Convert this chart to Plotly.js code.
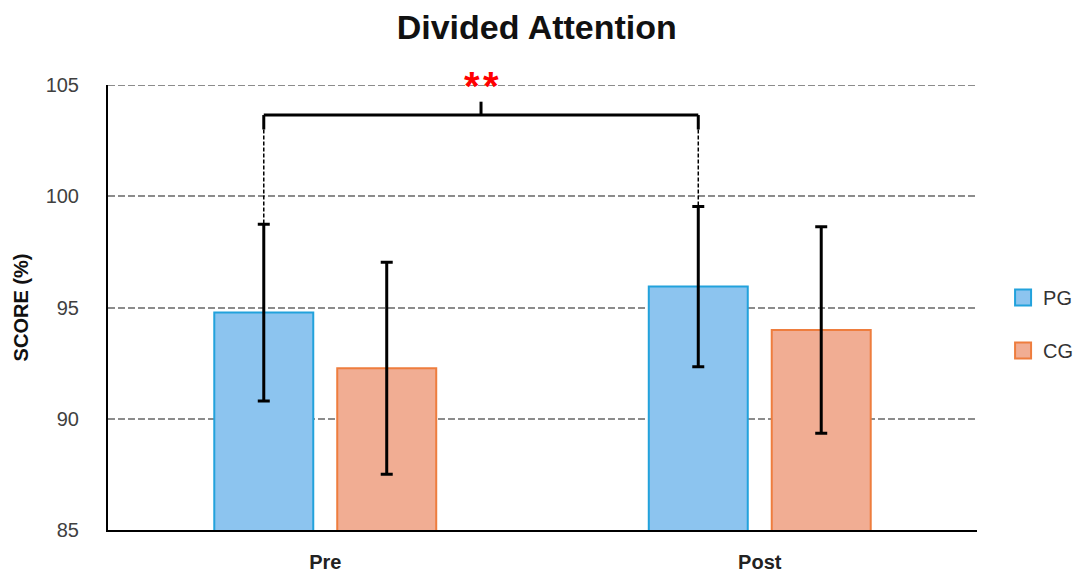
<!DOCTYPE html>
<html>
<head>
<meta charset="utf-8">
<script src="https://cdn.plot.ly/plotly-3.0.1.min.js"></script>
<style>html,body{margin:0;padding:0;background:#fff;}#chart{width:1080px;height:574px;}</style>
</head>
<body>
<div id="chart"></div>
<script>
const categories = ["Pre", "Post"];
const pgValues = [94.77, 95.94];
const pgErrors = [3.97, 3.6];
const cgValues = [92.27, 93.99];
const cgErrors = [4.76, 4.64];
const yTicks = [85, 90, 95, 100, 105];
const significance = "*\u200A*";

const bargap = 0.434, bargroupgap = 0.195;
const slot = (1 - bargap) / 2;
const pgOffset = -slot / 2;

const pgColor = "#8cc4ef", pgLine = "#22a2dc";
const cgColor = "#f1ad93", cgLine = "#ee7d3e";

const traces = [
  {type: "bar", name: "PG", x: categories, y: pgValues, showlegend: false,
   marker: {color: pgColor, line: {color: pgLine, width: 2}},
   error_y: {type: "data", array: pgErrors, visible: true, color: "#000", thickness: 3, width: 6}},
  {type: "bar", name: "CG", x: categories, y: cgValues, showlegend: false,
   marker: {color: cgColor, line: {color: cgLine, width: 2}},
   error_y: {type: "data", array: cgErrors, visible: true, color: "#000", thickness: 3, width: 6}},
  {type: "scatter", mode: "markers", name: "PG", x: [null], y: [null], legendgroup: "a",
   marker: {symbol: "square", size: 16, color: pgColor, line: {color: pgLine, width: 2}}},
  {type: "scatter", mode: "markers", name: "CG", x: [null], y: [null], legendgroup: "b",
   marker: {symbol: "square", size: 16, color: cgColor, line: {color: cgLine, width: 2}}}
];

const xL = 0 + pgOffset, xR = 1 + pgOffset, xM = (xL + xR) / 2;
const yBar = 103.65, yEnd = 103.0, yTip = 104.25;
const solid = {color: "#000", width: 3};
const gridDash = {color: "#8c8c8c", width: 2, dash: "7px,3px"};
const shapes = [
  {type: "line", xref: "paper", yref: "y", x0: 0, x1: 1, y0: 105, y1: 105, line: gridDash, layer: "below"},
  {type: "line", xref: "x", yref: "y", x0: xL, x1: xR, y0: yBar, y1: yBar, line: solid},
  {type: "line", xref: "x", yref: "y", x0: xL, x1: xL, y0: yBar, y1: yEnd, line: solid},
  {type: "line", xref: "x", yref: "y", x0: xR, x1: xR, y0: yBar, y1: yEnd, line: solid},
  {type: "line", xref: "x", yref: "y", x0: xM, x1: xM, y0: yBar, y1: yTip, line: solid},
  {type: "line", xref: "x", yref: "y", x0: xL, x1: xL, y0: yEnd, y1: pgValues[0] + pgErrors[0], line: {color: "#000", width: 1.5, dash: "4px,2px"}},
  {type: "line", xref: "x", yref: "y", x0: xR, x1: xR, y0: yEnd, y1: pgValues[1] + pgErrors[1], line: {color: "#000", width: 1.5, dash: "4px,2px"}}
];

const layout = {
  width: 1080, height: 574,
  margin: {l: 108, r: 103, t: 85, b: 44, autoexpand: false},
  paper_bgcolor: "#fff", plot_bgcolor: "#fff",
  title: {text: "<b>Divided Attention</b>", x: 0.497, xanchor: "center", y: 0.953, yanchor: "middle",
          font: {family: "Liberation Sans, Arial, sans-serif", size: 34, color: "#111"}},
  barmode: "group", bargap: bargap, bargroupgap: bargroupgap,
  showlegend: true,
  legend: {x: 1.03, xanchor: "left", y: 0.463, yanchor: "middle", tracegroupgap: 24,
           font: {family: "Liberation Sans, Arial, sans-serif", size: 20, color: "#333"}},
  xaxis: {type: "category", showline: true, linecolor: "#000", linewidth: 2, showgrid: false,
          ticks: "", ticklabelstandoff: 13, range: [-0.5, 1.5],
          tickfont: {family: "Liberation Sans, Arial, sans-serif", size: 20, color: "#222", weight: "bold"}},
  yaxis: {range: [85, 105], tickvals: yTicks, ticktext: yTicks.map(String), showline: true, linecolor: "#000", linewidth: 2,
          showgrid: true, gridcolor: "#8c8c8c", gridwidth: 2, griddash: "7px,3px", zeroline: false,
          ticks: "", ticklabelstandoff: 23,
          tickfont: {family: "Liberation Sans, Arial, sans-serif", size: 20, color: "#404040"},
          title: {text: "<b>SCORE (%)</b>", standoff: 12, font: {family: "Liberation Sans, Arial, sans-serif", size: 20, color: "#111"}}},
  shapes: shapes,
  annotations: [
    {xref: "x", yref: "y", x: xM, y: 105, text: "<b>" + significance + "</b>", showarrow: false,
     yanchor: "middle", yshift: -1, font: {family: "Liberation Sans, Arial, sans-serif", size: 40, color: "#ff0000"}}
  ]
};

Plotly.newPlot("chart", traces, layout, {displayModeBar: false, staticPlot: true});
</script>
</body>
</html>
